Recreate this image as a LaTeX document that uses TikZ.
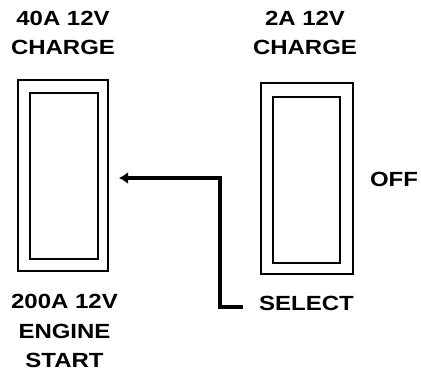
\documentclass[tikz,border=0pt]{standalone}
\usepackage{fontspec}
\setmainfont{Liberation Sans}
\usetikzlibrary{arrows.meta}
\newcommand{\stretched}[1]{\scalebox{1.17}[1]{#1}}
\tikzset{
x=1pt,y=-1pt,
label text/.style={font=\bfseries\fontsize{20.5}{29.5}\selectfont,align=center,inner sep=0pt},
frame/.style={draw,line width=2pt,inner sep=0pt,rectangle},
pointer/.style={line width=4.5pt,-{Latex[length=9pt,width=12pt]}}
}
\begin{document}
\begin{tikzpicture}
\useasboundingbox (0,0) rectangle (421,372);
% switch frames
\node[frame,minimum width=90.5pt,minimum height=191pt] (startsw)  at (62.75,175.5) {};
\node[frame,minimum width=68pt,minimum height=166pt]   (startin)  at (64,176) {};
\node[frame,minimum width=92pt,minimum height=191pt]   (chargesw) at (307,178.5) {};
\node[frame,minimum width=67pt,minimum height=166pt]   (chargein) at (306.5,180) {};
% labels
\node[label text] (fast)   at (63,33)    {\stretched{40A 12V}\\\stretched{CHARGE}};
\node[label text] (slow)   at (305,33)   {\stretched{2A 12V}\\\stretched{CHARGE}};
\node[label text] (engine) at (64.5,331) {\stretched{200A 12V}\\\stretched{ENGINE}\\\stretched{START}};
\node[label text] (sel)    at (306.5,303.5) {\stretched{SELECT}};
\node[label text] (off)    at (394,179)  {\stretched{OFF}};
% selector pointer
\coordinate (tail) at (243,307);
\coordinate (knee) at (220,178);
\coordinate (tip)  at (119,178);
\draw[pointer] (tail) -| (knee) -- (tip);
\end{tikzpicture}
\end{document}
